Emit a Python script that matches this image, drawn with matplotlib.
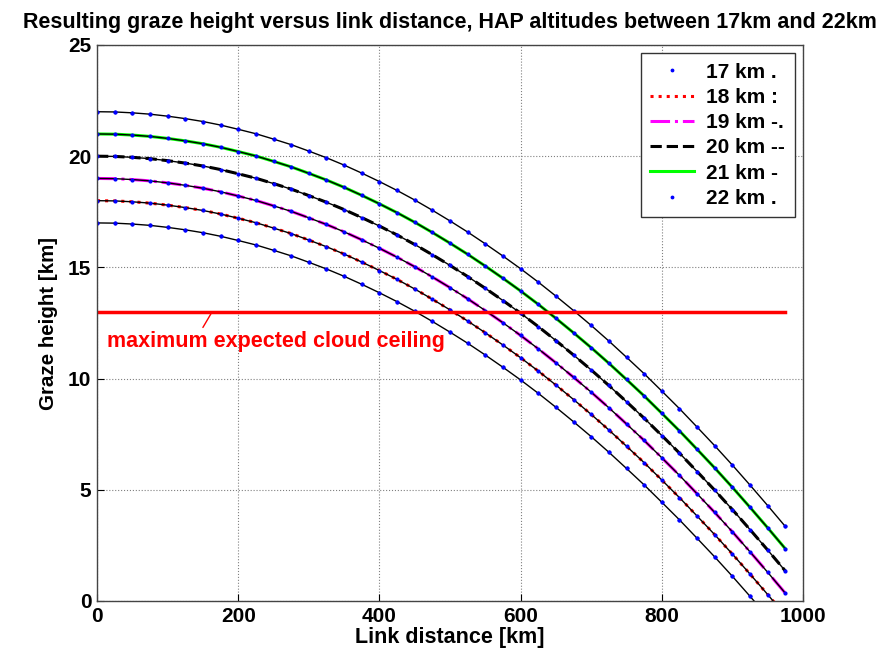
import numpy as np
import matplotlib
matplotlib.use('Agg')
import matplotlib.pyplot as plt

plt.rcParams['font.family'] = ['Liberation Sans', 'DejaVu Sans']
plt.rcParams['font.weight'] = 'bold'

# link distance samples [km]
distance = [0, 25, 50, 75, 100, 125, 150, 175, 200, 225, 250, 275, 300, 325,
            350, 375, 400, 425, 450, 475, 500, 525, 550, 575, 600, 625, 650,
            675, 700, 725, 750, 775, 800, 825, 850, 875, 900, 925, 950, 975]
# height lost at mid-link [km]
drop = [0.00, 0.01, 0.05, 0.11, 0.20, 0.31, 0.44, 0.60, 0.79, 0.99, 1.23,
        1.48, 1.77, 2.07, 2.40, 2.76, 3.14, 3.54, 3.97, 4.43, 4.91, 5.41,
        5.94, 6.49, 7.06, 7.66, 8.29, 8.94, 9.61, 10.31, 11.04, 11.78, 12.56,
        13.35, 14.18, 15.02, 15.89, 16.79, 17.71, 18.65]
altitudes = [17, 18, 19, 20, 21, 22]
labels = ['17 km .', '18 km :', '19 km -.', '20 km --', '21 km -', '22 km .']
styles = [('.', 'blue'), (':', 'red'), ('-.', 'magenta'),
          ('--', 'black'), ('-', 'lime'), ('.', 'blue')]
cloud_ceiling = 13

fig = plt.figure(figsize=(8.89, 6.54), dpi=100)
ax = fig.add_axes([97/889, 1-601/654, 706/889, 556/654])

d = np.array(distance)
dr = np.array(drop)
handles = []
for h, lab, (ls, col) in zip(altitudes, labels, styles):
    y = h - dr
    if ls == '.':
        ln, = ax.plot(d, y, '.', color=col, markersize=3.5, label=lab)
    else:
        ln, = ax.plot(d, y, ls, color=col, linewidth=2.2, label=lab)
    handles.append(ln)
# every curve also carries a thin black line with blue sample dots
for h in altitudes:
    y = h - dr
    ax.plot(d, y, '-', color='black', linewidth=1)
    ax.plot(d, y, '.', color='blue', markersize=4)

ax.plot([0, 975], [cloud_ceiling, cloud_ceiling], color='red', linewidth=2.5)
ax.text(14, 11.65, 'maximum expected cloud ceiling', color='red', fontsize=15.5,
        fontweight='bold', va='center', ha='left')
ax.annotate('', xy=(163, cloud_ceiling), xytext=(150, 12.3),
            arrowprops=dict(arrowstyle='-', color='red', lw=1, shrinkA=0, shrinkB=0))

ax.set_xlim(0, 1000)
ax.set_ylim(0, 25)
ax.set_xticks([0, 200, 400, 600, 800, 1000])
ax.set_yticks([0, 5, 10, 15, 20, 25])
ax.grid(True, linestyle=':', color='gray', linewidth=0.8)
ax.tick_params(labelsize=15, direction='in', length=5, pad=4)
for s in ax.spines.values():
    s.set_linewidth(1)
    s.set_color('#444444')
ax.set_xlabel('Link distance [km]', fontsize=15.5, fontweight='bold', labelpad=1)
ax.set_ylabel('Graze height [km]', fontsize=14.8, fontweight='bold', labelpad=7)
ax.set_title('Resulting graze height versus link distance, HAP altitudes between 17km and 22km',
             fontsize=15.5, fontweight='bold', pad=12)

leg = ax.legend(handles=handles, loc='upper right', fontsize=15, handlelength=2.1,
                handletextpad=0.6, fancybox=False, edgecolor='#333333', framealpha=1,
                borderaxespad=0.4, labelspacing=0.3, borderpad=0.45)
leg.get_frame().set_linewidth(1)

plt.savefig('out.png', dpi=100)
